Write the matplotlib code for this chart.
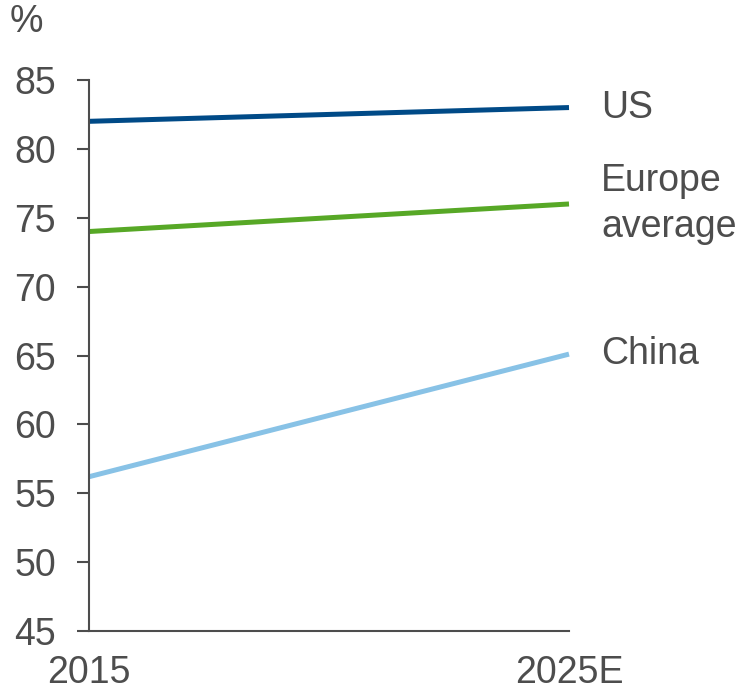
import matplotlib.pyplot as plt

plt.rcParams['font.family'] = ['Liberation Sans', 'DejaVu Sans']

years = ["2015", "2025E"]
us = [82.0, 83.0]
europe = [74.0, 76.0]
china = [56.2, 65.1]

grey = "#4d4d4d"
series = [
    ("US", us, "#004a87"),
    ("Europe\naverage", europe, "#57a826"),
    ("China", china, "#88c2e6"),
]

fig = plt.figure(figsize=(7.35, 6.91), dpi=100)
ax = fig.add_axes([89 / 735, 1 - 631 / 691, 480 / 735, 551 / 691])

x = list(range(len(years)))
for name, vals, col in series:
    ax.plot(x, vals, color=col, lw=3.6, solid_capstyle="butt", clip_on=False)
    ax.annotate(name, xy=(x[-1], vals[-1]), xytext=(23, 0),
                textcoords="offset points", va="center", ha="left",
                fontsize=27, color=grey, linespacing=1.35, annotation_clip=False)

ax.set_xlim(0, 1)
ax.set_ylim(45, 85)
ax.set_yticks(range(45, 90, 5))
ax.set_xticks(x)
ax.set_xticklabels(years)

for s in ["top", "right"]:
    ax.spines[s].set_visible(False)
for s in ["left", "bottom"]:
    ax.spines[s].set_color(grey)
    ax.spines[s].set_linewidth(1.5)

ax.tick_params(axis="y", length=8.6, width=1.5, color=grey, labelcolor=grey,
               labelsize=27, pad=15)
ax.tick_params(axis="x", length=0, labelcolor=grey, labelsize=27, pad=17)

fig.text(10 / 735, 1 - 22 / 691, "%", fontsize=27, color=grey, va="center", ha="left")

fig.savefig("out.png", dpi=100)
